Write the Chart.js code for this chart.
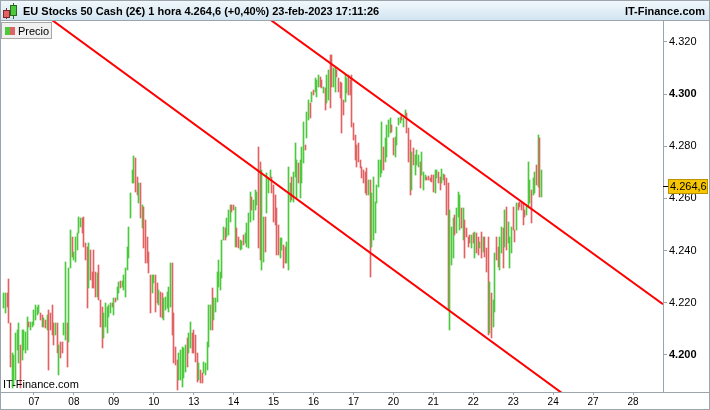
<!DOCTYPE html>
<html><head><meta charset="utf-8">
<script src="https://cdn.jsdelivr.net/npm/chart.js@4.4.0/dist/chart.umd.min.js"></script>
<style>
html,body{margin:0;padding:0;background:#fff;}
canvas{display:block;}
</style></head><body>
<canvas id="c" width="710" height="410"></canvas>
<script>
// ---- data ----
const dayLabels = ['07','08','09','10','13','14','15','16','17','20','21','22','23','24','27','28'];
const priceTicks = [4200,4220,4240,4260,4280,4300,4320];
const firstHour = 6; // first candle: 6 Feb 06:00 (hour index over trading days, 6 Feb 00:00 = 0)
const lastPrice = 4264.6;
const highs = [
 4223.8,4223.8,4223.8,4229.1,4212.3,4200.8,4200.0,4208.5,4209.6,4212.3,4203.9,4209.6,4209.6,4208.8,4214.6,4212.7,4212.7,4212.7, // 06
 4217.3,4219.2,4218.4,4219.2,4216.1,4215.4,4214.2,4213.4,4215.4,4217.3,4216.1,4219.2,4212.3,4212.3,4212.3,4203.9,4205.0,4205.0,4212.3,4235.7,4212.3,4233.4,4247.9,4245.2, // 07
 4239.5,4245.2,4246.8,4252.9,4252.5,4252.5,4252.9,4242.9,4241.4,4242.9,4240.2,4231.8,4240.2,4231.8,4231.4,4234.5,4221.1,4218.4,4216.1,4220.0,4218.4,4219.2,4220.0,4220.0, // 08
 4221.9,4221.9,4226.1,4228.0,4228.4,4228.4,4230.7,4233.4,4241.4,4249.1,4262.1,4270.9,4276.3,4275.5,4268.2,4265.9,4265.9,4257.5,4256.7,4251.7,4245.2,4239.5,4230.7,4230.7, // 09
 4230.7,4230.7,4227.6,4224.9,4224.2,4223.8,4221.9,4222.2,4224.2,4226.1,4235.3,4235.3,4216.1,4203.1,4198.1,4200.8,4201.9,4203.1,4202.7,4203.9,4206.5,4208.5,4212.7,4208.5, // 10
 4209.6,4207.7,4200.8,4197.0,4194.3,4193.1,4197.4,4197.0,4205.0,4219.2,4219.2,4225.7,4221.9,4221.9,4231.8,4236.4,4231.8,4244.1,4249.1,4248.7,4252.5,4255.6,4257.5,4257.5, // 13
 4257.5,4256.7,4248.7,4245.2,4244.1,4243.7,4246.0,4246.8,4250.6,4254.4,4262.5,4260.5,4259.4,4263.2,4262.5,4279.7,4274.0,4270.9,4252.9,4252.9,4269.7,4267.8,4270.9,4268.2, // 14
 4265.1,4261.3,4256.3,4249.8,4244.8,4244.8,4242.1,4241.4,4243.3,4272.0,4265.9,4268.2,4270.1,4281.2,4274.7,4273.6,4274.7,4279.7,4289.3,4280.5,4293.1,4297.7,4296.6,4300.8, // 15
 4301.5,4306.1,4305.4,4307.3,4306.5,4305.4,4302.7,4302.3,4307.3,4309.2,4314.9,4314.9,4310.0,4310.3,4309.2,4306.1,4304.6,4304.2,4297.7,4307.3,4306.1,4307.3,4305.4,4307.3, // 16
 4288.9,4284.3,4280.5,4281.2,4274.7,4272.0,4270.9,4270.1,4271.7,4267.1,4267.1,4262.1,4268.2,4258.6,4265.1,4274.7,4274.7,4289.3,4279.7,4283.1,4288.1,4290.0,4290.8,4288.1, // 17
 4283.1,4283.5,4287.4,4290.8,4291.2,4292.0,4290.8,4293.9,4292.7,4287.0,4282.4,4277.8,4279.3,4276.6,4278.5,4276.6,4274.0,4277.8,4270.1,4269.0,4268.2,4268.6,4267.8,4269.0, // 20
 4269.0,4270.9,4270.9,4270.1,4268.2,4271.3,4269.4,4269.0,4267.8,4265.9,4255.6,4249.1,4252.5,4253.7,4256.3,4262.5,4261.3,4256.3,4256.3,4251.7,4248.7,4245.2,4246.0,4246.0, // 21
 4246.8,4247.1,4246.8,4245.2,4243.3,4247.1,4245.2,4245.2,4241.0,4245.2,4228.0,4223.8,4221.1,4239.1,4245.2,4241.4,4245.2,4249.1,4248.7,4255.6,4256.7,4251.0,4245.2,4249.1, // 22
 4256.7,4247.9,4258.3,4258.3,4258.6,4258.3,4258.3,4255.6,4257.5,4274.0,4267.1,4263.2,4267.8,4270.1,4272.8,4284.3,4283.1,4270.9 // 23
];
const lows = [
 4218.0,4216.1,4218.4,4212.3,4195.4,4187.4,4188.2,4190.5,4201.9,4197.0,4187.4,4198.1,4201.9,4200.8,4201.9,4210.8,4209.6,4210.8, // 06
 4211.5,4213.4,4215.4,4216.1,4213.4,4210.8,4210.8,4210.4,4209.6,4194.3,4209.6,4207.7,4203.9,4207.7,4200.8,4192.4,4198.9,4200.8,4207.7,4205.8,4195.4,4205.0,4233.4,4237.6, // 07
 4236.4,4235.7,4240.2,4246.8,4249.1,4246.8,4241.4,4236.4,4218.0,4225.7,4228.8,4225.7,4225.7,4222.2,4222.2,4221.1,4210.8,4202.7,4206.5,4210.8,4208.5,4214.6,4216.1,4218.4, // 08
 4215.4,4220.3,4221.1,4223.8,4225.7,4226.1,4224.9,4222.2,4232.6,4237.2,4252.5,4265.9,4265.9,4262.5,4261.3,4258.3,4252.5,4248.7,4241.0,4235.3,4235.3,4231.4,4216.1,4223.8, // 09
 4227.6,4216.5,4220.0,4219.2,4214.6,4214.2,4213.4,4217.3,4218.0,4216.5,4218.4,4207.7,4197.0,4196.2,4186.6,4190.5,4190.5,4187.8,4191.2,4193.5,4195.4,4200.8,4202.7,4200.8, // 10
 4200.8,4197.4,4189.7,4190.5,4189.3,4189.3,4193.1,4192.4,4194.3,4203.1,4209.6,4209.6,4213.4,4216.5,4220.3,4226.1,4224.9,4229.5,4244.1,4244.1,4245.2,4246.0,4251.0,4254.8, // 13
 4255.6,4241.4,4241.4,4241.0,4240.2,4240.6,4242.1,4242.9,4241.4,4241.0,4251.0,4255.6,4251.7,4255.6,4257.5,4241.0,4236.4,4232.6,4235.7,4239.5,4254.4,4262.1,4267.8,4262.1, // 14
 4251.0,4249.8,4238.3,4238.3,4237.2,4240.2,4233.4,4235.3,4235.3,4232.6,4258.6,4259.4,4258.6,4268.2,4260.2,4265.9,4260.2,4265.9,4273.6,4278.5,4283.1,4290.0,4290.8,4296.9, // 15
 4299.6,4300.8,4298.8,4302.7,4302.7,4302.3,4300.4,4293.9,4296.6,4297.7,4294.6,4302.7,4302.7,4300.8,4306.5,4300.8,4298.5,4285.1,4292.0,4296.9,4300.4,4299.6,4299.6,4287.4, // 16
 4282.4,4274.7,4272.0,4274.0,4271.7,4267.8,4265.9,4262.1,4261.3,4261.3,4229.9,4241.4,4244.1,4246.8,4258.3,4264.4,4268.2,4269.7,4270.9,4274.0,4275.9,4283.5,4285.1,4285.4, // 17
 4276.6,4275.9,4280.5,4288.1,4288.9,4290.0,4287.4,4290.8,4285.1,4274.0,4261.3,4263.2,4272.8,4269.0,4272.8,4272.0,4264.0,4269.0,4263.2,4267.1,4267.1,4267.1,4266.7,4266.3, // 20
 4262.5,4262.1,4267.8,4265.9,4263.2,4265.9,4267.1,4265.1,4253.7,4217.3,4209.6,4234.5,4237.2,4246.0,4246.8,4252.9,4247.9,4248.7,4244.1,4237.2,4245.2,4241.4,4242.9,4241.0, // 21
 4242.9,4237.2,4239.1,4238.3,4241.0,4237.2,4239.5,4237.6,4231.8,4207.7,4208.5,4206.5,4210.8,4216.5,4236.4,4233.7,4232.6,4239.1,4233.4,4241.4,4240.2,4242.9,4233.4,4239.1, // 22
 4247.9,4243.3,4247.9,4255.6,4256.7,4255.6,4249.8,4252.9,4253.7,4256.3,4258.3,4250.6,4261.3,4262.1,4265.1,4264.4,4260.5,4260.5 // 23
];
// U = closed higher than opened, D = closed lower
const moves = (
 'UUDDDUUUUUDUUUUDUU' +
 'UUUUDDUDUDDDDUDUDDUUDUUD' +
 'UUUUUDDDDUDDDDUDDDUUUUUD' +
 'UDUUDUUUUUUUUDDUDUDDDDDU' +
 'UDDUDDUUUUUDDDDUUUUUDUUD' +
 'DDDUDDUUUUUDUUUUUUUDUUUD' +
 'DUDDUUDUUUUDUUUDDUUDUUUD' +
 'DDDDUUDDUUUDUUUDUUUDUUDU' +
 'DUUUDDUDUUDDUUDDDDDUUDDD' +
 'DDDDDDDDDUDUUUUUUUDUUUUD' +
 'DUUUUDUUDDDUDUUUDUUUDDDD' +
 'DUUDDUUDDDUUUDUUUDUDDDDU' +
 'DUDDUDUDDDUDUUDDUUDUDUUU' +
 'DDUDDDDDUUUDUUDUDU').split('');
// trend channel anchors (hour index, price)
const upperChannel = [{x:150, y:4335.9},{x:402, y:4219.4}];
const lowerChannel = [{x:20, y:4335.3},{x:402, y:4157.0}];

// ---- rendering ----
const FONT = "'Liberation Sans', Arial, sans-serif";
const UP = '#4dc93d', DOWN = '#e06262', AXIS = '#9aa5ae';
Chart.defaults.font.family = FONT;

function fmtThousands(n){ return String(Math.round(n)).replace(/\B(?=(\d{3})+(?!\d))/g, '.'); }
function fmtPrice(v){ const p = v.toFixed(1).split('.'); return fmtThousands(+p[0]) + ',' + p[1]; }

const candles = highs.map((h,i) => ({x: firstHour + i, y: [lows[i], h]}));

const deco = {
  id: 'deco',
  beforeDraw(chart){
    const c = chart.ctx; c.save(); c.fillStyle = '#fff'; c.fillRect(0,0,chart.width,chart.height); c.restore();
  },
  beforeDatasetDraw(chart, args){
    const meta = args.meta;
    if (meta.type !== 'bar') return;
    meta.data.forEach(el => {
      const top = Math.round(Math.min(el.y, el.base));
      let bot = Math.round(Math.max(el.y, el.base));
      if (bot - top < 1) bot = top + 1;
      el.x = Math.floor(el.x) + 0.5;
      el.y = top; el.base = bot; el.height = bot - top;
    });
  },
  afterDraw(chart){
    const c = chart.ctx;
    c.save();
    // header
    const g = c.createLinearGradient(0,0,0,20);
    g.addColorStop(0,'#f3f9fd'); g.addColorStop(1,'#d2e5f1');
    c.fillStyle = g; c.fillRect(0,0,710,20);
    c.strokeStyle = AXIS; c.lineWidth = 1;
    c.beginPath(); c.moveTo(0,20.5); c.lineTo(710,20.5); c.stroke();
    // header icon
    c.strokeStyle = '#7a2a2a';
    c.beginPath(); c.moveTo(6.5,8); c.lineTo(6.5,19); c.stroke();
    c.fillStyle = DOWN; c.fillRect(4,11,5,6); c.strokeRect(3.5,10.5,6,7);
    c.strokeStyle = '#2a6a20';
    c.beginPath(); c.moveTo(13.5,3); c.lineTo(13.5,19); c.stroke();
    c.fillStyle = UP; c.fillRect(11,6,5,9); c.strokeRect(10.5,5.5,6,10);
    c.fillStyle = '#000';
    c.font = 'bold 11px ' + FONT; c.textBaseline = 'alphabetic';
    c.textAlign = 'left';
    c.fillText('EU Stocks 50 Cash (2\u20ac) 1 hora ' + fmtPrice(lastPrice) + ' (+0,40%) 23-feb-2023 17:11:26', 23, 15);
    c.textAlign = 'right';
    c.fillText('IT-Finance.com', 705, 15);
    // legend box
    c.fillStyle = '#f0f0f0'; c.fillRect(1,22,51,17);
    c.strokeStyle = '#a8a8a8'; c.strokeRect(1.5,22.5,50,16);
    c.fillStyle = UP; c.fillRect(5,27,5,8);
    c.fillStyle = DOWN; c.fillRect(10,27,5,8);
    c.fillStyle = '#000'; c.textAlign = 'left';
    c.font = '11px ' + FONT; c.fillText('Precio', 18, 35);
    // watermark
    c.font = '11px ' + FONT; c.fillText('IT-Finance.com', 3, 388);
    // price tag
    const ys = chart.scales.y;
    const yp = Math.round(ys.getPixelForValue(lastPrice));
    c.strokeStyle = '#000';
    c.beginPath(); c.moveTo(663,yp+0.5); c.lineTo(668,yp+0.5); c.stroke();
    c.fillStyle = '#f7c600'; c.fillRect(668,yp-7,40,15);
    c.strokeStyle = '#b89400'; c.strokeRect(668.5,yp-6.5,39,14);
    c.fillStyle = '#000'; c.font = '11px ' + FONT;
    c.fillText(fmtPrice(lastPrice), 670, yp+4);
    // bottom line + frame
    c.strokeStyle = AXIS;
    c.beginPath(); c.moveTo(0,392.5); c.lineTo(710,392.5); c.stroke();
    c.strokeRect(0.5,0.5,709,409);
    c.restore();
  }
};

new Chart(document.getElementById('c'), {
  type: 'bar',
  data: {
    datasets: [
      { type:'line', data: upperChannel, borderColor:'#ff0000', borderWidth:2, pointRadius:0, order:0 },
      { type:'line', data: lowerChannel, borderColor:'#ff0000', borderWidth:2, pointRadius:0, order:0 },
      { type:'bar', data: candles, backgroundColor: moves.map(m => m === 'U' ? UP : DOWN),
        borderWidth:0, barThickness:1, grouped:false, order:1 }
    ]
  },
  options: {
    responsive:false, animation:false, devicePixelRatio:1,
    layout:{ padding:{ top:21, left:1, right:0, bottom:1 } },
    plugins:{ legend:{display:false}, tooltip:{enabled:false} },
    scales:{
      x:{
        type:'linear', min:4.2, max:402, offset:false,
        grid:{ offset:false, drawOnChartArea:false, drawTicks:true, tickLength:3, color:AXIS },
        border:{ display:true, color:AXIS },
        afterBuildTicks: s => { s.ticks = dayLabels.map((_, i) => ({value: 24*(i+1)})); },
        afterFit: s => { s.height = 17; },
        ticks:{ autoSkip:false, maxRotation:0, padding:1, color:'#000', font:{size:10, family:FONT},
          callback: (v, i) => dayLabels[i] }
      },
      y:{
        type:'linear', position:'right', min:4185.74, max:4327.99, beginAtZero:false,
        grid:{ drawOnChartArea:false, drawTicks:true, tickLength:4, color:AXIS },
        border:{ display:true, color:AXIS },
        afterBuildTicks: s => { s.ticks = priceTicks.map(v => ({value:v})); },
        afterFit: s => { s.width = 47; },
        ticks:{ padding:2, color:'#000',
          font: ctx => ({ size:11, family:FONT, weight: (ctx.tick && ctx.tick.value % 100 === 0) ? 'bold' : 'normal' }),
          callback: v => fmtThousands(v) }
      }
    }
  },
  plugins:[deco]
});
</script>
</body></html>
